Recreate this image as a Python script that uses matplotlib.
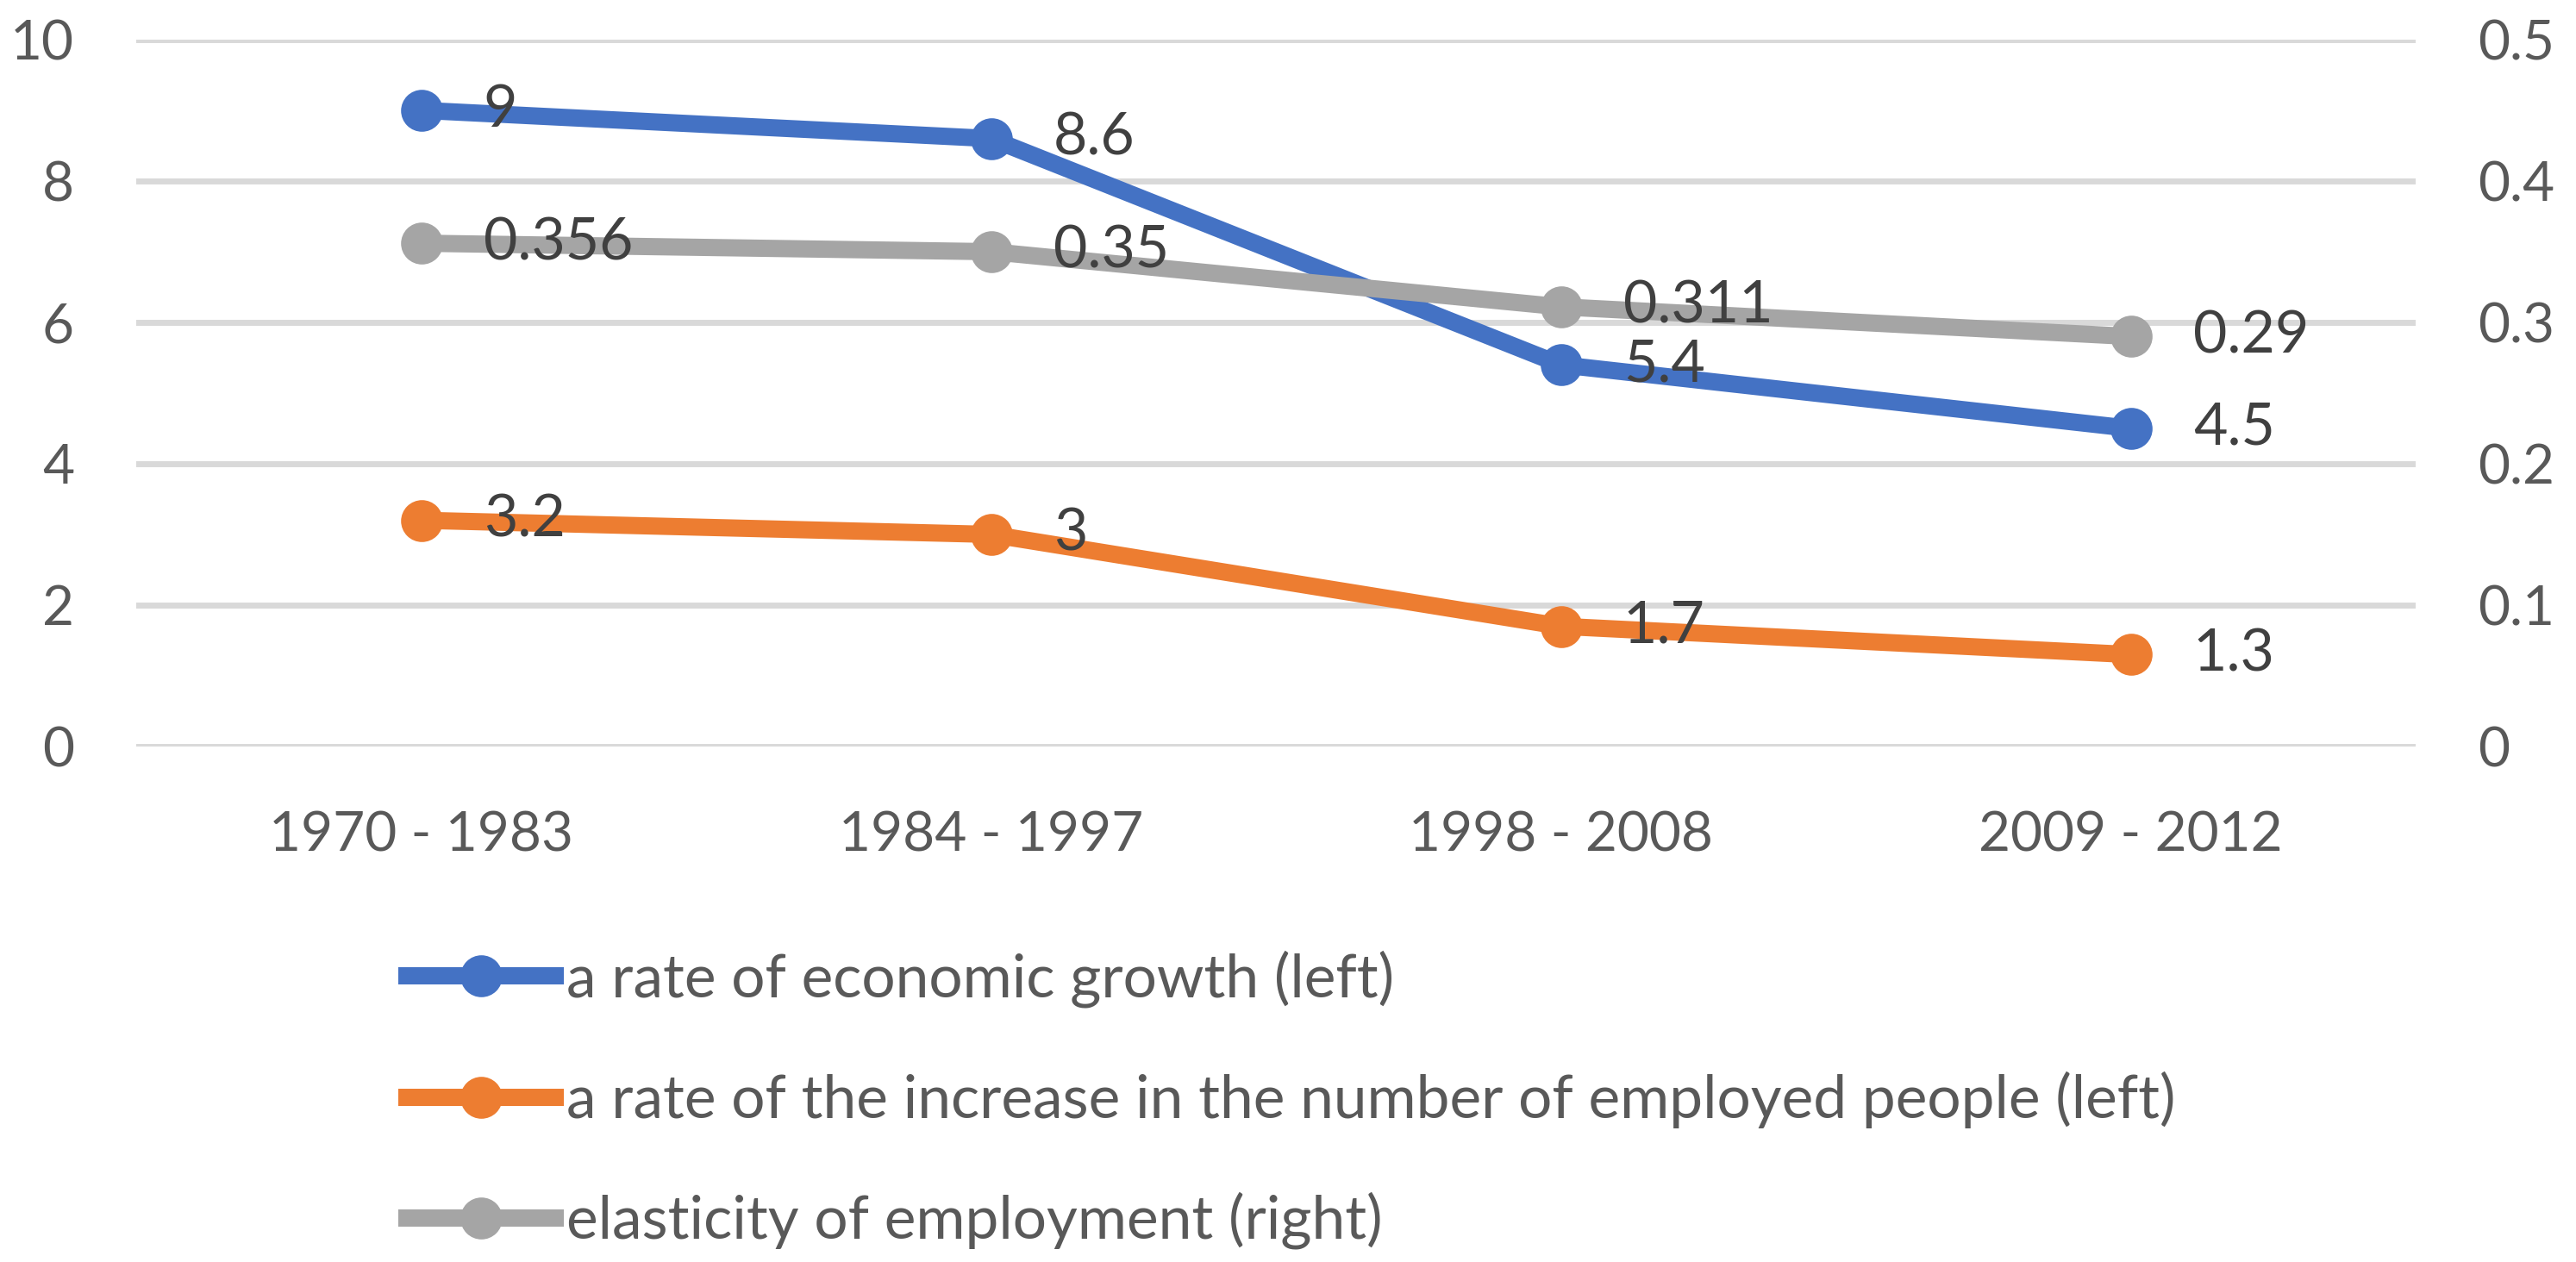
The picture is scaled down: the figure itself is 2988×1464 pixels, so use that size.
import matplotlib
matplotlib.use("Agg")
import matplotlib.pyplot as plt
from matplotlib.lines import Line2D

categories = ["1970 - 1983", "1984 - 1997", "1998 - 2008", "2009 - 2012"]
growth = [9, 8.6, 5.4, 4.5]
employed = [3.2, 3, 1.7, 1.3]
elasticity = [0.356, 0.35, 0.311, 0.29]
growth_labels = ["9", "8.6", "5.4", "4.5"]
employed_labels = ["3.2", "3", "1.7", "1.3"]
elasticity_labels = ["0.356", "0.35", "0.311", "0.29"]
left_ticks = [0, 2, 4, 6, 8, 10]
right_ticks = [0, 0.1, 0.2, 0.3, 0.4, 0.5]
right_tick_labels = ["0", "0.1", "0.2", "0.3", "0.4", "0.5"]
legend_labels = ["a rate of economic growth (left)",
                 "a rate of the increase in the number of employed people (left)",
                 "elasticity of employment (right)"]

BLUE, ORANGE, GRAY = "#4472C4", "#ED7D31", "#A5A5A5"
plt.rcParams['font.family'] = ['Lato', 'DejaVu Sans']
FS = 23
FS_DATA = 24.5
FS_LEG = 25

fig = plt.figure(figsize=(14.94, 7.32), dpi=200)
ax = fig.add_axes([0.0529, 0.4085, 0.8849, 0.5601])
ax2 = ax.twinx()

x = list(range(len(categories)))
lw, ms = 7.2, 16.5
ax.plot(x, growth, color=BLUE, lw=lw, marker='o', ms=ms, solid_capstyle='round', zorder=3)
ax.plot(x, employed, color=ORANGE, lw=lw, marker='o', ms=ms, solid_capstyle='round', zorder=3)
ax2.plot(x, elasticity, color=GRAY, lw=lw, marker='o', ms=ms, solid_capstyle='round', zorder=3)

ax.set_xlim(-0.5, len(categories) - 0.5)
ax.set_ylim(0, 10)
ax2.set_ylim(0, 0.5)
ax.set_yticks(left_ticks)
ax.set_yticklabels([str(t) for t in left_ticks])
ax2.set_yticks(right_ticks)
ax2.set_yticklabels(right_tick_labels)
ax.set_xticks(x)
ax.set_xticklabels(categories)
ax.grid(axis='y', color='#D9D9D9', lw=2.5, zorder=0)
ax.set_axisbelow(True)
for a in (ax, ax2):
    for s in a.spines.values():
        s.set_visible(False)
ax.tick_params(axis='y', length=0, pad=26, labelsize=FS, labelcolor='#595959')
ax.tick_params(axis='x', length=0, pad=27, labelsize=FS, labelcolor='#595959')
ax2.tick_params(axis='y', length=0, pad=26, labelsize=FS, labelcolor='#595959')

# data labels (right of points)
for xs, ys, labs, tr in [(x, growth, growth_labels, ax.transData),
                         (x, employed, employed_labels, ax.transData),
                         (x, elasticity, elasticity_labels, ax2.transData)]:
    for xi, yi, lab in zip(xs, ys, labs):
        ax2.annotate(lab, xy=(xi, yi), xycoords=tr, xytext=(26, 0),
                     textcoords='offset points', ha='left', va='center',
                     fontsize=FS_DATA, color='#404040', zorder=10)

handles = [Line2D([], [], color=c, lw=lw, marker='o', ms=ms) for c in (BLUE, ORANGE, GRAY)]
fig.legend(handles, legend_labels, loc='upper left', bbox_to_anchor=(0.158, 0.247),
           frameon=False, fontsize=FS_LEG, labelcolor='#595959', handlelength=2.48,
           handletextpad=0.18, labelspacing=1.06, borderaxespad=0, borderpad=0)

fig.savefig("out.png", dpi=200)
